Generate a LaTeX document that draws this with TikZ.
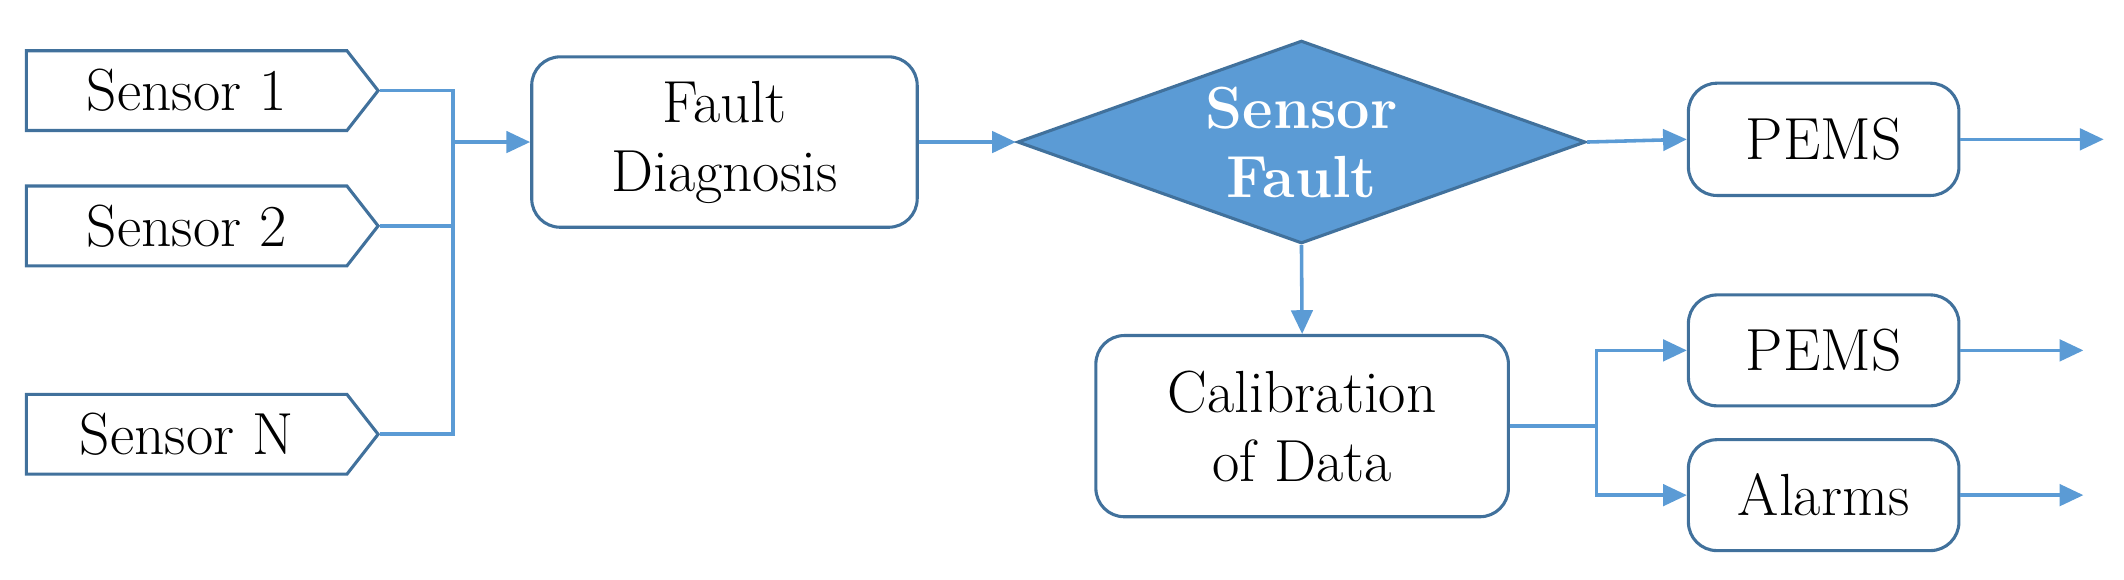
\documentclass[tikz,border=0pt]{standalone}
\usetikzlibrary{shapes.symbols,shapes.geometric,arrows.meta}
\begin{document}
\begin{tikzpicture}[x=0.02cm,y=-0.02cm,
  every node/.style={font=\fontsize{25}{29}\selectfont},
  box/.style={draw=boxc,line width=1.3pt,rounded corners=12pt,align=center,inner sep=0pt},
  sens/.style={draw=boxc,line width=1.3pt,signal,signal to=east,signal pointer angle=104,minimum width=5.2cm,minimum height=1.18cm,inner sep=0pt},
  ln/.style={draw=linec,line width=1.5pt},
  ar/.style={ln,-{Triangle[length=10pt,width=9pt]}}]
\definecolor{boxc}{HTML}{41719C}
\definecolor{linec}{HTML}{5B9BD5}
\useasboundingbox (0,0) rectangle (1570,428);
\node[sens] (s1) at (138,67) {Sensor 1};
\node[sens] (s2) at (138,167) {Sensor 2};
\node[sens] (sn) at (138,321) {Sensor N};
\coordinate (b1) at (335,67);
\coordinate (bn) at (335,321);
\coordinate (bf) at (335,105);
\node[box,minimum width=5.7cm,minimum height=2.52cm] (fd) at (535.5,105) {Fault\\Diagnosis};
\node[diamond,draw=boxc,fill=linec,line width=1.3pt,minimum width=8.4cm,minimum height=3cm,inner sep=0pt,text=white,align=center,font=\fontsize{25}{29}\selectfont\bfseries,aspect=2.8] (df) at (962,105) {Sensor\\Fault};
\node[box,minimum width=4cm,minimum height=1.66cm] (p1) at (1348,103) {PEMS};
\coordinate (o1) at (1555,103);
\node[box,minimum width=6.1cm,minimum height=2.68cm] (cd) at (962.5,315) {Calibration\\of Data};
\node[box,minimum width=4cm,minimum height=1.64cm] (p2) at (1348,259) {PEMS};
\node[box,minimum width=4cm,minimum height=1.64cm] (al) at (1348,366) {Alarms};
\coordinate (o2) at (1540,259);
\coordinate (o3) at (1540,366);
\coordinate (j) at (1180,315);
\draw[ln] (s1.east) -- (b1) -- (bn) -- (sn.east);
\draw[ln] (s2.east) -- (s2.east -| b1);
\draw[ar] (bf) -- (fd.west |- bf);
\draw[ar] (fd.east) -- (df.west);
\draw[ar] (df.east) -- (p1.west);
\draw[ar] (p1.east) -- (o1);
\draw[ar] (df.south) -- (cd.north);
\draw[ln] (cd.east) -- (j);
\draw[ar] (j) |- (p2.west);
\draw[ar] (j) |- (al.west);
\draw[ar] (p2.east) -- (o2);
\draw[ar] (al.east) -- (o3);
\end{tikzpicture}
\end{document}
